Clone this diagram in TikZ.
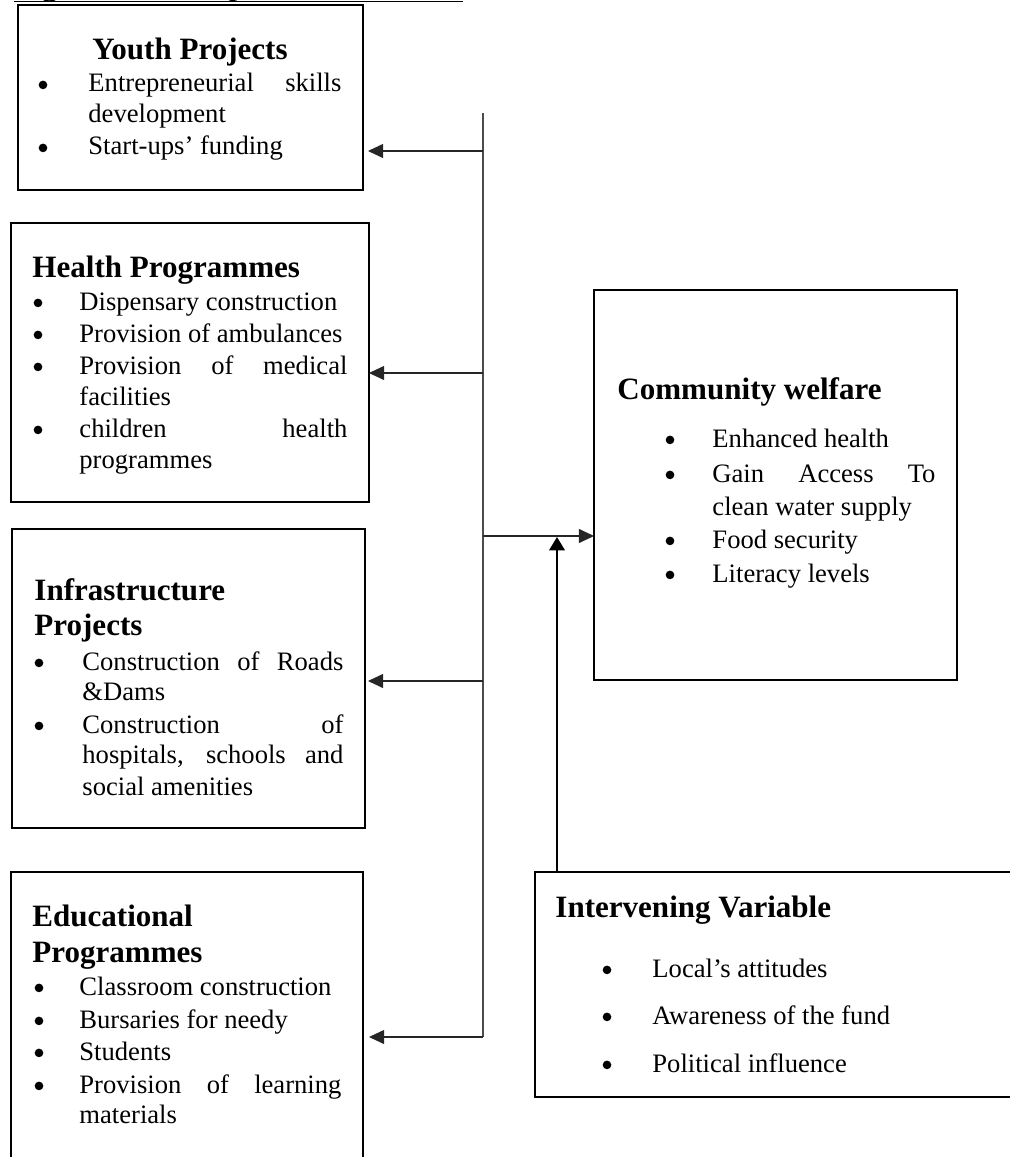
\documentclass[tikz,border=0pt]{standalone}
\usepackage{fontspec}
\setmainfont{Liberation Serif}
\usetikzlibrary{arrows.meta,calc}
\newlength\pxl \setlength\pxl{0.451pt}
\newcommand\drawbox[5]{\node[cbox, anchor=north west, minimum width={(#4-#2)*0.451pt}, minimum height={(#5-#3)*0.451pt}] (#1) at (#2,#3) {};}
\newcommand\jline[2]{\makebox[#1\pxl][s]{#2}}
\begin{document}
\begin{tikzpicture}[x=0.451pt, y=-0.451pt,
  cbox/.style={draw=black, line width=1pt, inner sep=0pt, outer sep=0pt, rectangle},
  txt/.style={anchor=base west, inner sep=0pt, font=\fontsize{12}{14}\selectfont},
  hd/.style={anchor=base west, inner sep=0pt, font=\fontsize{14}{16}\selectfont\bfseries},
  bul/.style={circle, fill=black, inner sep=0pt, minimum size=3.9pt, yshift=3.2pt},
  trunk/.style={draw=black!70, line width=0.55pt},
  conn/.style={draw=black!85, line width=0.5pt, -{Triangle[length=6.8pt,width=6.3pt]}},
  upconn/.style={draw=black, line width=0.9pt, -{Triangle[length=6pt,width=7pt]}}]
\useasboundingbox (0,0) rectangle (1010,1157);
\clip (0,0) rectangle (1010,1157);

% title (cut off at the top, as in the reference)
\node[hd] (title) at (14,-4) {Figure 2: Conceptual Framework};
\draw[line width=0.7pt] ([yshift=-2.5pt]title.base west) -- ([yshift=-2.5pt]title.base east);

% boxes
\drawbox{youth}{18}{5}{363}{190}
\drawbox{health}{11}{223}{369}{502}
\drawbox{infra}{12}{529}{365}{828}
\drawbox{edu}{11}{872}{363}{1180}
\drawbox{comm}{594}{290}{957}{680}
\drawbox{inter}{535}{872}{1030}{1097}

% Youth Projects
\node[hd, anchor=base] (yh) at (190,60) {Youth Projects};
\node[bul] (yb1) at (43,92) {};
\node[txt] (y1) at (88,92) {\jline{253}{Entrepreneurial skills}};
\node[txt] (y2) at (88,123) {development};
\node[bul] (yb2) at (43,155) {};
\node[txt] (y3) at (88,155) {Start-ups’ funding};

% Health Programmes
\node[hd] (hh) at (32,277) {Health Programmes};
\node[bul] (hb1) at (38,310) {};
\node[txt] (h1) at (79,310) {Dispensary construction};
\node[bul] (hb2) at (38,342) {};
\node[txt] (h2) at (79,342) {Provision of ambulances};
\node[bul] (hb3) at (38,374) {};
\node[txt] (h3) at (79,374) {\jline{268}{Provision of medical}};
\node[txt] (h4) at (79,405) {facilities};
\node[bul] (hb4) at (38,437) {};
\node[txt] (h5) at (79,437) {\jline{268}{children health}};
\node[txt] (h6) at (79,468) {programmes};

% Infrastructure Projects
\node[hd] (ih1) at (34,600) {Infrastructure};
\node[hd] (ih2) at (34,635) {Projects};
\node[bul] (ib1) at (39,670) {};
\node[txt] (i1) at (82,670) {\jline{261}{Construction of Roads}};
\node[txt] (i2) at (82,700) {\&Dams};
\node[bul] (ib2) at (39,733) {};
\node[txt] (i3) at (82,733) {\jline{261}{Construction of}};
\node[txt] (i4) at (82,763) {\jline{261}{hospitals, schools and}};
\node[txt] (i5) at (82,795) {social amenities};

% Educational Programmes
\node[hd] (eh1) at (32,926) {Educational};
\node[hd] (eh2) at (32,962) {Programmes};
\node[bul] (eb1) at (39,995) {};
\node[txt] (e1) at (79,995) {Classroom construction};
\node[bul] (eb2) at (39,1028) {};
\node[txt] (e2) at (79,1028) {Bursaries for needy};
\node[bul] (eb3) at (39,1060) {};
\node[txt] (e3) at (79,1060) {Students};
\node[bul] (eb4) at (39,1093) {};
\node[txt] (e4) at (79,1093) {\jline{262}{Provision of learning}};
\node[txt] (e5) at (79,1123) {materials};

% Community welfare
\node[hd] (ch) at (617,399) {Community welfare};
\node[bul] (cb1) at (670,447) {};
\node[txt] (c1) at (712,447) {Enhanced health};
\node[bul] (cb2) at (670,482) {};
\node[txt] (c2) at (712,482) {\jline{223}{Gain Access To}};
\node[txt] (c3) at (712,515) {clean water supply};
\node[bul] (cb3) at (670,548) {};
\node[txt] (c4) at (712,548) {Food security};
\node[bul] (cb4) at (670,582) {};
\node[txt] (c5) at (712,582) {Literacy levels};

% Intervening Variable
\node[hd] (vh) at (555,917) {Intervening Variable};
\node[bul] (vb1) at (607,977) {};
\node[txt] (v1) at (652,977) {Local’s attitudes};
\node[bul] (vb2) at (607,1024) {};
\node[txt] (v2) at (652,1024) {Awareness of the fund};
\node[bul] (vb3) at (607,1072) {};
\node[txt] (v3) at (652,1072) {Political influence};

% connectors
\coordinate (ttop) at (483,113);
\coordinate (tbot) at (483,1037);
\coordinate (j1) at (483,151);
\coordinate (j2) at (483,373);
\coordinate (j0) at (483,536);
\coordinate (j3) at (483,681);
\coordinate (ux) at (557,537);
\draw[trunk] (ttop) -- (tbot);
\draw[conn] (j1) -- ($(youth.east |- j1)+(5,0)$);
\draw[conn] (j2) -- (health.east |- j2);
\draw[conn] (j3) -- ($(infra.east |- j3)+(3,0)$);
\draw[conn] (tbot) -- ($(edu.east |- tbot)+(6,0)$);
\draw[conn] (j0) -- (comm.west |- j0);
\draw[upconn] (inter.north -| ux) -- (ux);
\end{tikzpicture}
\end{document}
